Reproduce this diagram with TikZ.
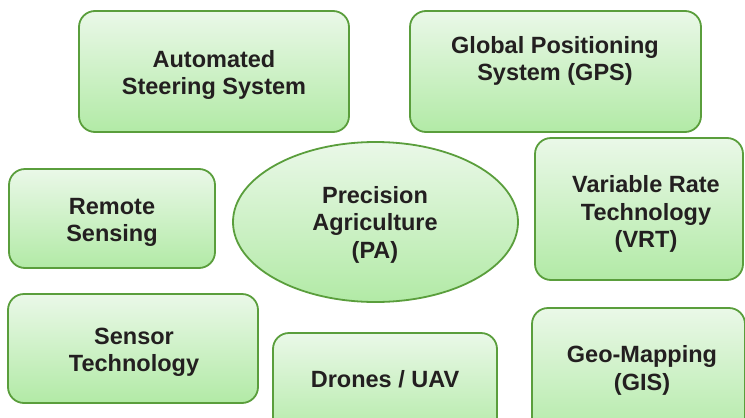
\documentclass[tikz,border=0pt]{standalone}
\usepackage{fontspec}
\setmainfont{Liberation Sans}
\usetikzlibrary{shapes.geometric}
\definecolor{boxtop}{HTML}{EAF8E8}
\definecolor{boxbot}{HTML}{B2EAA6}
\definecolor{boxline}{HTML}{5A9E3C}
\definecolor{txt}{HTML}{231F20}
\begin{document}
\begin{tikzpicture}[x=1pt,y=-1pt,
  shapebox/.style={draw=boxline, line width=1.8pt, top color=boxtop, bottom color=boxbot, rounded corners=16pt, inner sep=0pt},
  shapeell/.style={ellipse, draw=boxline, line width=1.8pt, top color=boxtop, bottom color=boxbot, inner sep=0pt},
  lbl/.style={font=\fontsize{23.5}{27.5}\selectfont\bfseries, text=txt, align=center, inner sep=0pt}]
\clip (0,0) rectangle (745,418);
\useasboundingbox (0,0) rectangle (745,418);
% shapes
\node[shapebox, minimum width=270pt, minimum height=121pt] (ass) at (214,71.5) {};
\node[shapebox, minimum width=291pt, minimum height=121pt] (gps) at (555.5,71.5) {};
\node[shapebox, minimum width=206pt, minimum height=99pt] (rs) at (112,218.5) {};
\node[shapebox, minimum width=208pt, minimum height=142pt] (vrt) at (639,209) {};
\node[shapebox, minimum width=250pt, minimum height=109pt] (st) at (133,348.5) {};
\node[shapebox, minimum width=224pt, minimum height=107pt] (uav) at (385,386.5) {};
\node[shapebox, minimum width=213pt, minimum height=132pt] (gis) at (638.5,374) {};
\node[shapeell, minimum width=285pt, minimum height=160pt] (pa) at (375.5,222) {};
% labels
\node[lbl] (assT) at (214,75) {Automated\\Steering System};
\node[lbl] (gpsT) at (555,61) {Global Positioning\\System (GPS)};
\node[lbl] (rsT) at (112,222.5) {Remote\\Sensing};
\node[lbl] (paT) at (375,224.5) {Precision\\Agriculture\\(PA)};
\node[lbl] (vrtT) at (646,214) {Variable Rate\\Technology\\(VRT)};
\node[lbl] (stT) at (134,352.5) {Sensor\\Technology};
\node[lbl] (gisT) at (642,370.5) {Geo-Mapping\\(GIS)};
\node[lbl, anchor=base] (uavT) at (385,387) {Drones / UAV};
\end{tikzpicture}
\end{document}
